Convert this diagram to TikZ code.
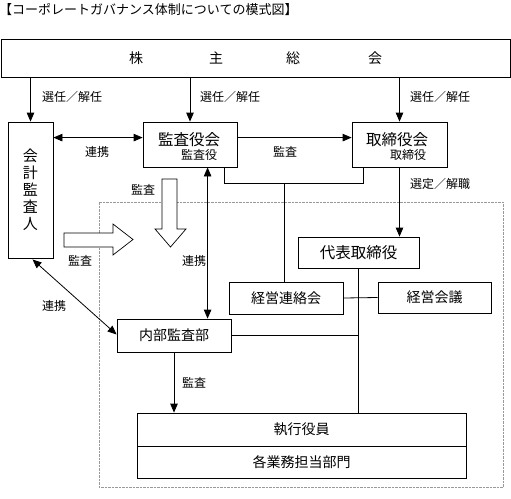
\documentclass[tikz,border=0pt]{standalone}
\usepackage{fontspec}
\setmainfont{Noto Sans CJK JP}
\usetikzlibrary{arrows.meta,calc}
\tikzset{
  box/.style={draw,line width=0.8pt,fill=white,inner sep=0pt,font=\fontsize{14}{16}\selectfont},
  lab/.style={inner sep=0pt,font=\fontsize{12}{14}\selectfont},
  arr/.style={line width=0.8pt,-{Triangle[width=7.5pt,length=9pt]}},
  darr/.style={line width=0.8pt,{Triangle[width=7.5pt,length=9pt]}-{Triangle[width=7.5pt,length=9pt]}},
  ln/.style={line width=0.8pt},
  blockarrow/.style={draw,line width=0.7pt,fill=white},
  frame/.style={draw=gray!80,line width=0.8pt,dash pattern=on 2.5pt off 1pt},
}
\begin{document}
\begin{tikzpicture}[x=1pt,y=-1pt]
\useasboundingbox (0,0) rectangle (511,498);
% title
\node[anchor=west,inner sep=0pt,font=\fontsize{13}{15}\selectfont] (title) at (-1,10) {【コーポレートガバナンス体制についての模式図】};
% dotted frame
\draw[frame] (99,202) rectangle (503,487);
% boxes
\node[box,minimum width=509pt,minimum height=38pt] (gm) at (255.5,58) {株\hspace{66pt}主\hspace{63pt}総\hspace{68pt}会};
\node[box,minimum width=45pt,minimum height=136pt,align=center,font=\fontsize{15}{17}\selectfont] (aud) at (30.5,190) {会\\計\\監\\査\\人};
\node[box,minimum width=94pt,minimum height=45pt] (kansa) at (190,144.5) {};
\node[inner sep=0pt,font=\fontsize{15.5}{17}\selectfont] (kansaT) at (189,140) {監査役会};
\node[lab] (kansaS) at (199,155) {監査役};
\node[box,minimum width=95pt,minimum height=45pt] (tori) at (399.5,144.5) {};
\node[inner sep=0pt,font=\fontsize{15.5}{17}\selectfont] (toriT) at (397,140) {取締役会};
\node[lab] (toriS) at (408,155) {取締役};
\node[box,minimum width=121pt,minimum height=31pt,font=\fontsize{15.5}{17}\selectfont] (daihyo) at (358.5,252.5) {代表取締役};
\node[box,minimum width=114pt,minimum height=32pt] (renraku) at (286,298) {経営連絡会};
\node[box,minimum width=113pt,minimum height=31pt] (kaigi) at (434.5,297.5) {経営会議};
\node[box,minimum width=114pt,minimum height=33pt] (naibu) at (174,335.5) {内部監査部};
\node[box,minimum width=329pt,minimum height=33pt] (exec) at (301.5,429.5) {執行役員};
\node[box,minimum width=329pt,minimum height=32pt] (dept) at (301.5,462) {各業務担当部門};
% arrows from general meeting
\draw[arr] (aud.north |- gm.south) -- (aud.north);
\draw[arr] (kansa.north |- gm.south) -- (kansa.north);
\draw[arr] (tori.north |- gm.south) -- (tori.north);
\node[lab] (l1) at (72,97) {選任／解任};
\node[lab] (l2) at (230,97) {選任／解任};
\node[lab] (l3) at (440,97) {選任／解任};
% horizontal links
\draw[darr] ($(aud.north east)+(0,16)$) -- ($(kansa.north west)+(0,16)$);
\node[lab] (l4) at (97,152) {連携};
\draw[arr] ($(kansa.north east)+(0,16)$) -- ($(tori.north west)+(0,16)$);
\node[lab] (l5) at (285,152) {監査};
% joint lines
\coordinate (j1) at (224,183);
\coordinate (j2) at (363,183);
\coordinate (j3) at (284,183);
\draw[ln] (kansa.south -| j1) -- (j1) -- (j2) -- (tori.south -| j2);
\draw[ln] (j3) -- (j3 |- renraku.north);
% tori -> daihyo
\draw[arr] (tori.south) -- (tori.south |- daihyo.north);
\node[lab] (l6) at (440,184) {選定／解職};
% renraku - kaigi
\draw[ln] (renraku.east) -- (kaigi.west);
% daihyo down to exec
\draw[ln] (daihyo.south) -- (daihyo.south |- exec.north);
\draw[ln] (naibu.east) -- (naibu.east -| daihyo.south);
% naibu -> exec
\draw[arr] (naibu.south) -- (naibu.south |- exec.north);
\node[lab] (l7) at (194,383) {監査};
% kansa <-> naibu
\coordinate (k1) at ($(kansa.south west)+(65,0)$);
\draw[darr] (k1) -- (k1 |- naibu.north);
\node[lab] (l8) at (194,261) {連携};
% auditor <-> naibu diagonal
\draw[darr] ($(aud.south)+(2,1)$) -- ($(naibu.west)+(0,-1)$);
\node[lab] (l9) at (54,306) {連携};
% block arrows
\draw[blockarrow] (162,179) -- (177,179) -- (177,229) -- (186,229) -- (170.5,247) -- (155,229) -- (162,229) -- cycle;
\node[lab] (l10) at (143,190) {監査};
\draw[blockarrow] (64,233) -- (113,233) -- (113,224) -- (133,239.5) -- (113,255) -- (113,247) -- (64,247) -- cycle;
\node[lab] (l11) at (80,261) {監査};
\end{tikzpicture}
\end{document}
